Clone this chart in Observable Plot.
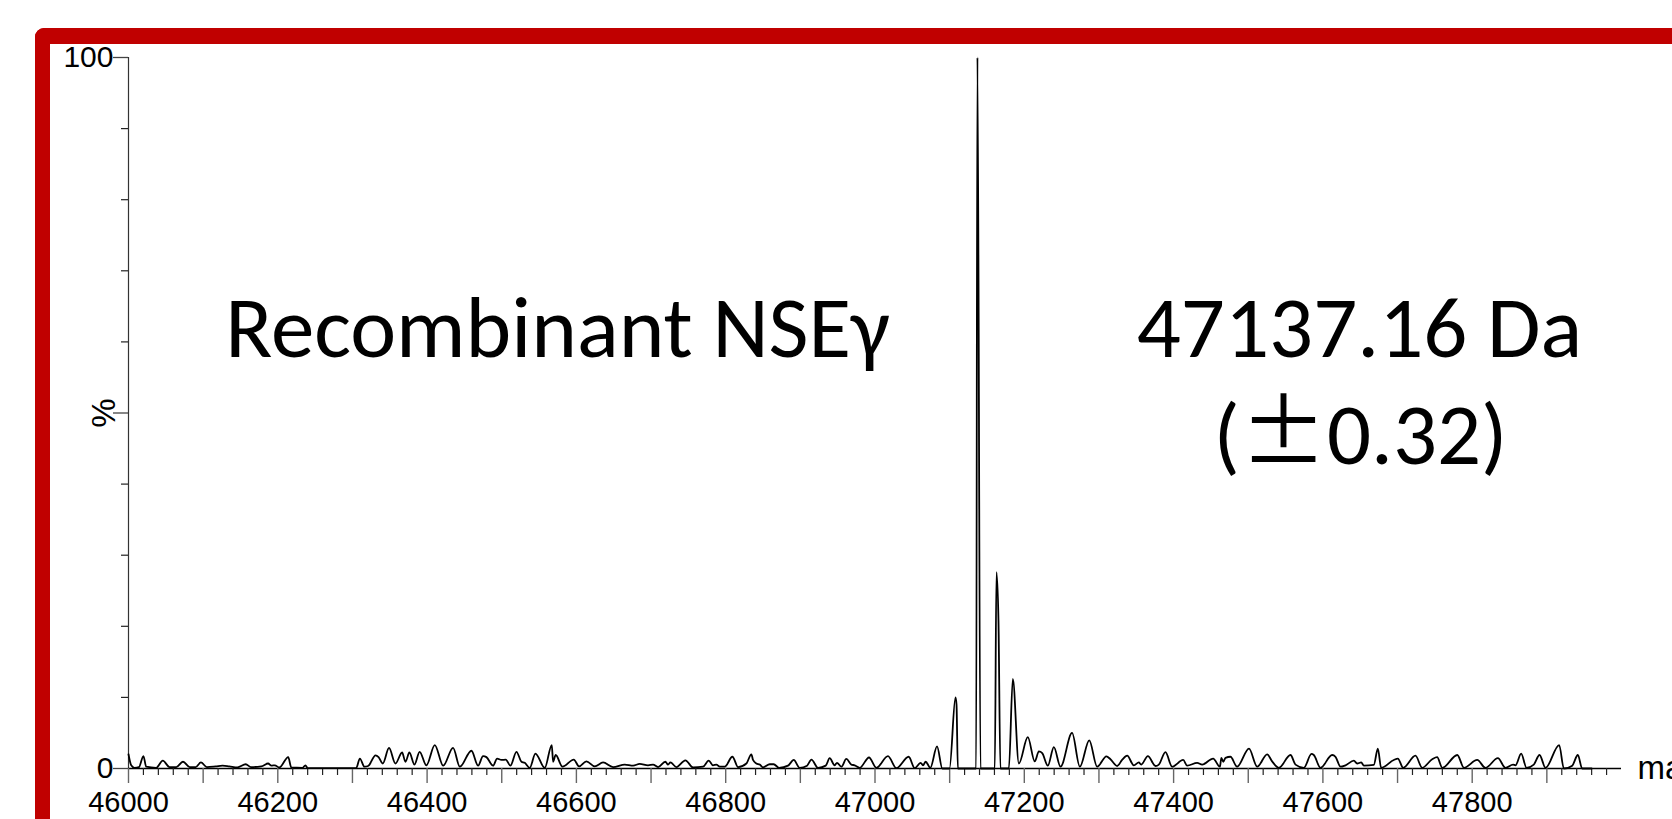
<!DOCTYPE html>
<html>
<head>
<meta charset="utf-8">
<script src="https://cdn.jsdelivr.net/npm/d3@7"></script>
<script src="https://cdn.jsdelivr.net/npm/@observablehq/plot@0.6"></script>
<style>
  html, body { margin: 0; padding: 0; background: #fff; overflow: hidden; }
  #wrap { position: relative; width: 1672px; height: 819px; overflow: hidden; background: #fff; }
  #frame { position: absolute; left: 35px; top: 28px; width: 1800px; height: 1000px;
           border-left: 15px solid #C00000; border-top: 16px solid #C00000;
           border-top-left-radius: 9px; box-sizing: border-box; }
  #chart { position: absolute; left: 0; top: 0; }
  #chart svg { background: transparent; overflow: hidden; }
</style>
</head>
<body>
<div id="wrap"><div id="frame"></div><div id="chart"></div></div>
<script>
// Deconvoluted mass spectrum: mass (Da) and relative intensity (%)
const mass = [
  46000, 46003.6, 46008, 46014, 46020, 46023.7, 46037, 46046, 46055, 46064,
  46073, 46082, 46090, 46097, 46105, 46117, 46126, 46135, 46146, 46157,
  46164, 46178, 46187, 46191.5, 46196, 46202, 46214, 46218, 46233, 46237,
  46240, 46305, 46310, 46316, 46321, 46331, 46335, 46340.6, 46349, 46357.6,
  46366.5, 46371, 46376.3, 46383, 46390, 46399, 46410.3, 46421.5, 46434.8, 46443.8,
  46459.4, 46468.3, 46475, 46479.5, 46488.4, 46493.8, 46499.6, 46505.4, 46511.6, 46519.7,
  46526.4, 46530.8, 46537.5, 46545.1, 46557.6, 46567, 46568.8, 46572.3, 46581.3, 46596.5,
  46603.6, 46613.4, 46624.6, 46635.7, 46649.1, 46664.8, 46676, 46684.8, 46696, 46702.7,
  46709.4, 46719.2, 46722.8, 46725.9, 46734, 46746, 46756.3, 46769.6, 46777.3, 46783,
  46787.5, 46792, 46798.7, 46809, 46816.6, 46827.7, 46834.4, 46836.6, 46841.1, 46845.6,
  46850, 46859, 46864.3, 46871.5, 46883.5, 46891.1, 46899.1, 46909, 46914.8, 46923.7,
  46934, 46939.3, 46946, 46949.1, 46955, 46961.6, 46968.3, 46972.8, 46979.5, 46992,
  47001.8, 47017.4, 47028.6, 47045.1, 47053.2, 47061.2, 47064.3, 47067.9, 47074.1, 47083.1,
  47090.2, 47099.8, 47107.8, 47109.2, 47111, 47135.5, 47137.2, 47141.3, 47160.5, 47162.7,
  47165.4, 47168, 47179.3, 47184.6, 47192.7, 47204.7, 47214, 47219.5, 47224, 47231.5,
  47239.6, 47248.5, 47264, 47274.4, 47287, 47297.6, 47310, 47315.4, 47324.4, 47331,
  47337.8, 47346.7, 47353.4, 47356.5, 47365.5, 47375.8, 47380.2, 47389.1, 47398, 47412.8,
  47418.2, 47431.6, 47438.3, 47453, 47462, 47464, 47466.6, 47469.5, 47476.2, 47485,
  47501, 47512, 47525.3, 47532, 47541, 47556.6, 47563.3, 47574.5, 47584.7, 47587.8,
  47596.8, 47612.4, 47616.9, 47623.6, 47630.3, 47641.5, 47645.9, 47651.3, 47654.9, 47668.2,
  47673.6, 47678, 47695, 47700.4, 47707.5, 47724, 47733, 47746.4, 47753, 47760,
  47780, 47789, 47806.7, 47817.8, 47834.4, 47844.6, 47854.7, 47858, 47865.6, 47872.8,
  47882.5, 47890.2, 47898.2, 47916.5, 47922.8, 47934, 47941.5, 47947.3, 47960
];
const intensity = [
  2.0, 0.45, 0.1, 0.2, 1.75, 0.25, 0.1, 1.1, 0.2, 0.2,
  0.95, 0.2, 0.2, 0.85, 0.2, 0.3, 0.4, 0.3, 0.15, 0.6,
  0.2, 0.3, 0.7, 0.4, 0.45, 0.15, 1.6, 0.15, 0.1, 0.45,
  0.05, 0.05, 1.4, 0.25, 0.35, 1.85, 1.6, 0.7, 2.9, 0.7,
  2.25, 0.95, 2.25, 0.55, 2.35, 0.45, 3.3, 0.4, 2.9, 0.25,
  2.5, 0.4, 1.75, 1.6, 0.4, 1.4, 1.2, 1.25, 0.4, 2.35,
  0.95, 0.8, 0.1, 2.1, 0.1, 3.3, 0.95, 1.9, 0.25, 1.25,
  0.3, 1.0, 0.3, 0.85, 0.2, 0.55, 0.4, 0.65, 0.45, 0.55,
  0.2, 0.95, 0.55, 0.85, 0.2, 1.15, 0.15, 0.25, 1.1, 0.45,
  0.55, 0.25, 0.25, 1.65, 0.2, 0.7, 2.0, 1.2, 0.7, 0.55,
  0.15, 0.6, 0.6, 0.1, 0.4, 1.2, 0.1, 0.4, 1.25, 0.1,
  0.4, 1.45, 0.45, 0.8, 0.25, 1.35, 0.55, 0.45, 0.1, 1.55,
  0.1, 1.75, 0.05, 1.65, 0.05, 0.8, 0.45, 0.95, 0.1, 3.1,
  0, 0, 10.0, 9.0, 0, 0, 100, 0, 0, 27.6,
  20.8, 0, 0, 12.6, 0.7, 4.4, 1.0, 2.4, 2.15, 0.4,
  3.0, 0.25, 5.0, 0.25, 3.95, 0.25, 1.7, 1.3, 0.35, 1.2,
  1.8, 0.45, 0.85, 0.55, 1.75, 0.35, 0.55, 2.3, 0.25, 1.2,
  0.4, 0.8, 0.55, 1.4, 0.25, 1.5, 0.95, 1.5, 1.65, 0.25,
  2.8, 0.25, 2.0, 1.0, 0.1, 1.9, 0.55, 0.1, 2.05, 1.9,
  0.1, 1.9, 1.65, 0.25, 0.45, 1.1, 0.7, 0.85, 0.4, 0.5,
  2.8, 0.1, 1.2, 1.4, 0.1, 1.8, 0.1, 1.3, 1.6, 0.1,
  1.9, 0.1, 1.2, 0.1, 1.45, 0.1, 0.55, 0.45, 2.1, 0.1,
  0.55, 1.9, 0.1, 3.3, 0, 0.4, 1.9, 0, 0
];

// Axis ticks
const xLabelTicks = [46000, 46200, 46400, 46600, 46800, 47000, 47200, 47400, 47600, 47800];
const xMajorTicks = [46000, 46100, 46200, 46300, 46400, 46500, 46600, 46700, 46800, 46900,
                     47000, 47100, 47200, 47300, 47400, 47500, 47600, 47700, 47800, 47900];
const xMinorTicks = d3.range(46020, 48000, 20).filter(v => v % 100 !== 0);
const yLabelTicks = [0, 100];
const yMajorTicks = [0, 50, 100];
const yMinorTicks = [10, 20, 30, 40, 60, 70, 80, 90];

const titleText = "Recombinant NSEγ";
const massText = "47137.16 Da";
const errText = "(±0.32)";
const xAxisLabel = "mass";
const yAxisLabel = "%";

const spectrum = mass.map((m, i) => ({mass: m, pct: intensity[i]}));

const tickFont = "29px";
const sans = "'Liberation Sans', Arial, sans-serif";
const calibri = "Calibri, Carlito, Lato, sans-serif";

const chart = Plot.plot({
  width: 1672,
  height: 819,
  marginLeft: 128,
  marginRight: 51,
  marginTop: 57,
  marginBottom: 51,
  style: {background: "transparent", fontFamily: sans, color: "#000"},
  x: {domain: [46000, 48000], axis: null, label: null},
  y: {domain: [0, 100], axis: null, label: null},
  marks: [
    // axis lines
    Plot.ruleX([46000], {stroke: "#333", strokeWidth: 1.2}),
    Plot.ruleY([0], {stroke: "#000", strokeWidth: 1.3}),
    // x ticks
    Plot.axisX(xMinorTicks, {anchor: "bottom", tickSize: 7, text: null, stroke: "#222", strokeWidth: 1.2, label: null}),
    Plot.axisX(xMajorTicks, {anchor: "bottom", tickSize: 15, text: null, stroke: "#666", strokeWidth: 1.4, label: null}),
    Plot.axisX(xLabelTicks, {anchor: "bottom", tickSize: 0, tickPadding: 23, fontSize: tickFont, fill: "#000", label: null, tickFormat: d => String(d)}),
    // y ticks
    Plot.axisY(yMinorTicks, {anchor: "left", tickSize: 7, text: null, stroke: "#222", strokeWidth: 1.2, label: null}),
    Plot.axisY(yMajorTicks, {anchor: "left", tickSize: 15, text: null, stroke: "#444", strokeWidth: 1.3, label: null}),
    Plot.axisY(yLabelTicks, {anchor: "left", tickSize: 0, tickPadding: 15, fontSize: "30px", fill: "#000", label: null, tickFormat: d => String(d)}),
    // axis labels
    Plot.text([xAxisLabel], {frameAnchor: "bottom-right", dx: 16, textAnchor: "start", lineAnchor: "middle", fontSize: 33, fill: "#000"}),
    Plot.text([yAxisLabel], {frameAnchor: "left", dx: -24, rotate: -90, textAnchor: "middle", lineAnchor: "middle", fontSize: 33, fill: "#000"}),
    // spectrum
    Plot.line(spectrum, {x: "mass", y: "pct", curve: "monotone-x", stroke: "#000", strokeWidth: 1.8}),
    // annotations
    Plot.text([titleText], {frameAnchor: "top-left", dx: 429, dy: 272, textAnchor: "middle", lineAnchor: "middle", fontSize: 87, fontFamily: calibri, fill: "#000"}),
    Plot.text([massText], {frameAnchor: "top-left", dx: 1231, dy: 272, textAnchor: "middle", lineAnchor: "middle", fontSize: 87, fontFamily: calibri, fill: "#000"}),
    Plot.text([errText], {frameAnchor: "top-left", dx: 1232, dy: 379, textAnchor: "middle", lineAnchor: "middle", fontSize: 87, fontFamily: calibri, fill: "#000", className: "err-text"})
  ]
});
// render the ± sign with a full-width CJK glyph, as in the original slide
chart.querySelectorAll("text").forEach(t => {
  if (t.textContent === errText) {
    const parts = errText.split("±");
    t.textContent = "";
    const ns = "http://www.w3.org/2000/svg";
    const a = document.createElementNS(ns, "tspan"); a.textContent = parts[0];
    const b = document.createElementNS(ns, "tspan"); b.textContent = "±";
    b.setAttribute("font-family", "'Noto Sans CJK JP', 'Noto Sans CJK SC', sans-serif");
    const c = document.createElementNS(ns, "tspan"); c.textContent = parts[1];
    t.append(a, b, c);
  }
});
document.getElementById("chart").appendChild(chart);
</script>
</body>
</html>
